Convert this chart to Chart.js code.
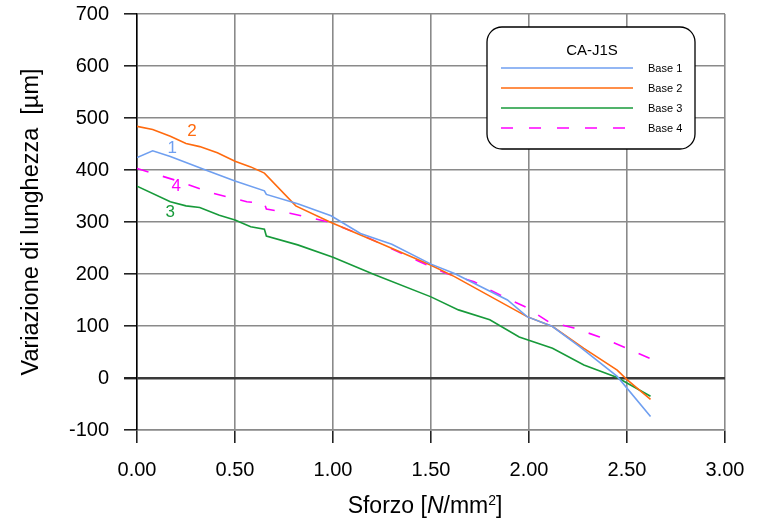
<!DOCTYPE html>
<html>
<head>
<meta charset="UTF-8">
<title>CA-J1S</title>
<script src="https://cdn.jsdelivr.net/npm/chart.js@4.4.0/dist/chart.umd.min.js"></script>
<style>
  html, body { margin: 0; padding: 0; background: #fff; }
  .wrap { width: 763px; height: 522px; position: relative; }
</style>
</head>
<body>
<div class="wrap"><canvas id="c"></canvas></div>
<script>
// stress [N/mm2] / length change [um]
const base1X = [0, 0.08, 0.17, 0.35, 0.50, 0.65, 0.66, 0.82, 0.99, 1.14, 1.30, 1.50, 1.62, 1.89, 1.99, 2.12, 2.26, 2.45, 2.62];
const base1Y = [424, 437, 426, 400, 379, 360, 353, 335, 312, 278, 257, 219, 201, 150, 118, 99, 60, 3, -74];

const base2X = [0, 0.08, 0.17, 0.25, 0.32, 0.41, 0.50, 0.58, 0.65, 0.81, 0.99, 1.24, 1.50, 1.62, 1.99, 2.12, 2.28, 2.45, 2.50, 2.62];
const base2Y = [484, 478, 465, 451, 445, 433, 417, 406, 394, 331, 299, 259, 217, 195, 118, 99, 57, 15, -3, -41];

const base3X = [0, 0.17, 0.25, 0.32, 0.42, 0.50, 0.58, 0.65, 0.66, 0.82, 1.00, 1.21, 1.50, 1.64, 1.80, 1.95, 2.12, 2.28, 2.45, 2.62];
const base3Y = [369, 339, 331, 328, 313, 304, 291, 286, 273, 256, 232, 199, 156, 131, 112, 79, 57, 25, 1, -35];

const base4X = [0, 0.19, 0.39, 0.56, 0.65, 0.66, 0.78, 0.99, 1.20, 1.44, 1.58, 1.72, 1.85, 1.98, 2.10, 2.23, 2.36, 2.50, 2.62];
const base4Y = [403, 381, 355, 339, 336, 325, 317, 299, 266, 224, 201, 185, 160, 137, 108, 96, 79, 57, 37];

const seriesNames = ['Base 1', 'Base 2', 'Base 3', 'Base 4'];
const seriesTags = ['1', '2', '3', '4'];
// where the little number tags sit (data coords)
const tagX = [0.18, 0.28, 0.17, 0.20];
const tagY = [442, 475, 319, 369];

const colors = ['#6f9ff0', '#ff6a0e', '#179a3a', '#ff00ff'];
const FONT = 'Arial, "Liberation Sans", sans-serif';

function pts(xs, ys) {
    return xs.map((x, i) => ({ x: x, y: ys[i] }));
}

const datasets = [
    pts(base1X, base1Y), pts(base2X, base2Y), pts(base3X, base3Y), pts(base4X, base4Y)
].map((d, i) => ({
    label: seriesNames[i],
    data: d,
    borderColor: colors[i],
    borderWidth: 1.6,
    borderDash: i === 3 ? [12, 15] : [],
    pointRadius: 0,
    showLine: true,
    fill: false,
    tension: 0
}));

const extras = {
    id: 'extras',
    afterDraw(chart) {
        const ctx = chart.ctx;
        const xs = chart.scales.x, ys = chart.scales.y;
        ctx.save();

        // number tags next to the curves
        ctx.font = '17px ' + FONT;
        ctx.textAlign = 'center';
        ctx.textBaseline = 'middle';
        seriesTags.forEach((t, i) => {
            ctx.fillStyle = colors[i];
            ctx.fillText(t, xs.getPixelForValue(tagX[i]), ys.getPixelForValue(tagY[i]));
        });

        // legend box
        const bx = 487, by = 27, bw = 208, bh = 122, r = 15;
        ctx.beginPath();
        ctx.roundRect(bx, by, bw, bh, r);
        ctx.fillStyle = '#fff';
        ctx.fill();
        ctx.lineWidth = 1.3;
        ctx.strokeStyle = '#000';
        ctx.stroke();

        ctx.fillStyle = '#000';
        ctx.font = '15px ' + FONT;
        ctx.fillText('CA-J1S', 592, 51);

        ctx.font = '11px ' + FONT;
        ctx.textAlign = 'left';
        seriesNames.forEach((n, i) => {
            const ly = 68 + i * 20;
            ctx.beginPath();
            ctx.setLineDash(i === 3 ? [12, 16] : []);
            ctx.strokeStyle = colors[i];
            ctx.lineWidth = 1.6;
            ctx.moveTo(501, ly);
            ctx.lineTo(633, ly);
            ctx.stroke();
            ctx.fillStyle = '#000';
            ctx.fillText(n, 648, ly + 1);
        });
        ctx.setLineDash([]);

        // x axis title with italic N and superscript 2
        const parts = [
            { t: 'Sforzo [', f: '23px ' + FONT, dy: 0 },
            { t: 'N', f: 'italic 23px ' + FONT, dy: 0 },
            { t: '/mm', f: '23px ' + FONT, dy: 0 },
            { t: '2', f: '14px ' + FONT, dy: -8 },
            { t: ']', f: '23px ' + FONT, dy: 0 }
        ];
        let total = 0;
        parts.forEach(p => { ctx.font = p.f; p.w = ctx.measureText(p.t).width; total += p.w; });
        let cx = 425 - total / 2;
        ctx.textBaseline = 'alphabetic';
        ctx.fillStyle = '#000';
        parts.forEach(p => {
            ctx.font = p.f;
            ctx.fillText(p.t, cx, 513 + p.dy);
            cx += p.w;
        });
        ctx.restore();
    }
};

new Chart(document.getElementById('c'), {
    type: 'scatter',
    data: { datasets: datasets },
    options: {
        responsive: true,
        maintainAspectRatio: false,
        animation: false,
        layout: { padding: { top: 14, right: 38, left: 0, bottom: 0 } },
        plugins: {
            legend: { display: false },
            tooltip: { enabled: false }
        },
        scales: {
            x: {
                type: 'linear',
                min: 0,
                max: 3,
                afterFit: s => { s.height = 92; },
                ticks: {
                    stepSize: 0.5,
                    padding: 15,
                    color: '#000',
                    font: { family: FONT, size: 20 },
                    callback: v => v.toFixed(2),
                    maxRotation: 0
                },
                grid: {
                    color: '#8a8a8a',
                    lineWidth: 1.6,
                    tickLength: 13,
                    tickColor: '#222'
                },
                border: { color: '#8a8a8a', width: 1.6 }
            },
            y: {
                type: 'linear',
                min: -100,
                max: 700,
                afterFit: s => { s.width = 137; s.paddingTop = 0; s.paddingBottom = 0; },
                ticks: {
                    stepSize: 100,
                    padding: 15,
                    color: '#000',
                    font: { family: FONT, size: 20 }
                },
                grid: {
                    color: c => c.tick && c.tick.value === 0 ? '#3a3a3a' : '#8a8a8a',
                    lineWidth: c => c.tick && c.tick.value === 0 ? 2.4 : 1.6,
                    tickLength: 13,
                    tickColor: '#222'
                },
                border: { color: '#000', width: 1.5 },
                title: {
                    display: true,
                    text: 'Variazione di lunghezza  [µm]',
                    color: '#000',
                    font: { family: FONT, size: 23.5 },
                    padding: { top: 17, bottom: 0 }
                }
            }
        }
    },
    plugins: [extras]
});
</script>
</body>
</html>
